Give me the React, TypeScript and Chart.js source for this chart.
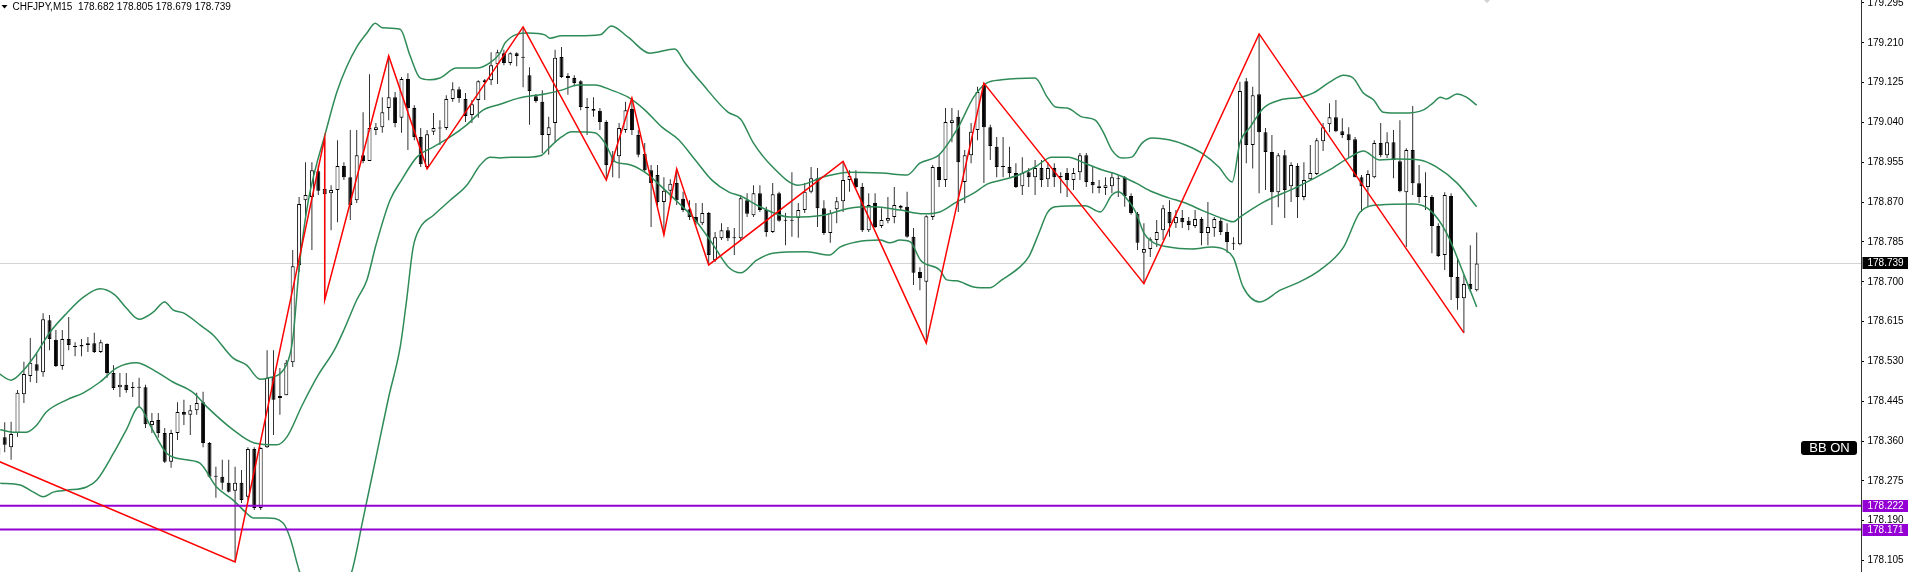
import React, { useEffect, useRef } from 'react';
import { Chart, registerables } from 'chart.js';

Chart.register(...registerables);

// ---------- data (CHFJPY, M15) ----------
const SYMBOL = 'CHFJPY,M15';

const OPEN = [
  178.345,178.368,178.347,178.377,178.460,178.499,178.524,178.507,178.618,178.576,
  178.520,178.578,178.563,178.562,178.565,178.569,178.550,178.567,178.505,178.475,
  178.480,178.474,178.476,178.475,178.394,178.405,178.377,178.316,178.377,178.422,
  178.416,178.426,178.443,178.356,178.286,178.284,178.271,178.254,178.271,178.241,
  178.343,178.217,178.347,178.497,178.452,178.458,178.528,178.735,178.874,178.881,
  178.936,178.898,178.889,178.896,178.947,178.923,178.874,178.970,178.958,179.024,
  179.030,179.071,179.094,179.050,179.133,179.071,179.009,178.945,179.020,179.027,
  179.028,179.090,179.111,179.090,179.056,179.088,179.126,179.130,179.164,179.188,
  179.167,179.188,179.180,179.141,179.096,179.084,179.013,179.039,179.180,179.139,
  179.135,179.128,179.073,179.069,179.065,179.041,178.955,178.968,179.024,179.069,
  179.013,178.973,178.938,178.928,178.870,178.894,178.911,178.877,178.855,178.838,
  178.825,178.847,178.746,178.793,178.810,178.795,178.793,178.874,178.842,178.889,
  178.853,178.806,178.889,178.832,178.830,178.836,178.853,178.892,178.921,178.857,
  178.804,178.855,178.872,178.917,178.921,178.902,178.810,178.868,178.819,178.830,
  178.838,178.862,178.860,178.796,178.721,178.700,178.838,178.945,178.917,179.039,
  179.052,178.913,178.970,179.024,179.120,179.030,178.988,178.947,178.945,178.932,
  178.904,178.934,178.923,178.943,178.919,178.943,178.926,178.932,178.917,178.934,
  178.970,178.913,178.904,178.900,178.904,178.921,178.923,178.883,178.845,178.762,
  178.770,178.789,178.810,178.849,178.825,178.836,178.830,178.819,178.834,178.804,
  178.815,178.830,178.806,178.783,178.780,179.128,178.992,179.100,179.019,178.977,
  178.891,178.970,178.904,178.947,178.881,178.919,178.930,179.000,179.036,179.051,
  179.021,179.015,179.004,178.923,178.902,178.923,178.996,178.970,178.998,178.957,
  178.891,178.981,178.910,178.883,178.881,178.819,178.757,178.883,178.710,178.665,
  178.695,178.682,
];
const HIGH = [
  178.360,178.400,178.401,178.469,178.529,178.580,178.548,178.633,178.629,178.597,
  178.597,178.625,178.571,178.578,178.582,178.591,178.576,178.569,178.522,178.505,
  178.505,178.486,178.495,178.480,178.420,178.420,178.388,178.384,178.443,178.448,
  178.437,178.463,178.465,178.358,178.305,178.320,178.320,178.305,178.298,178.347,
  178.347,178.347,178.554,178.554,178.516,178.533,178.768,178.881,178.955,178.955,
  178.949,179.007,178.906,179.002,178.955,179.024,179.024,179.062,179.143,179.039,
  179.094,179.182,179.105,179.137,179.145,179.077,179.028,179.024,179.060,179.045,
  179.098,179.126,179.116,179.103,179.088,179.130,179.133,179.190,179.195,179.195,
  179.190,179.190,179.244,179.158,179.101,179.109,179.052,179.195,179.201,179.145,
  179.141,179.130,179.092,179.094,179.071,179.045,178.979,179.039,179.084,179.092,
  179.024,178.996,178.949,178.949,178.923,178.919,178.941,178.892,178.874,178.868,
  178.868,178.849,178.806,178.825,178.817,178.815,178.885,178.889,178.906,178.906,
  178.860,178.911,178.892,178.847,178.934,178.868,178.911,178.945,178.943,178.874,
  178.853,178.881,178.957,178.938,178.938,178.911,178.889,178.889,178.857,178.881,
  178.902,178.864,178.892,178.815,178.731,178.842,178.949,178.970,179.071,179.071,
  179.066,178.981,179.039,179.116,179.124,179.035,179.009,179.009,178.988,178.953,
  178.966,178.943,178.960,178.960,178.955,178.953,178.934,178.943,178.943,178.975,
  178.975,178.945,178.917,178.923,178.934,178.928,178.926,178.889,178.849,178.825,
  178.795,178.832,178.864,178.874,178.853,178.853,178.838,178.853,178.838,178.870,
  178.838,178.836,178.825,178.795,179.127,179.135,179.116,179.229,179.028,179.013,
  178.975,178.981,178.955,178.953,178.955,178.992,179.007,179.039,179.081,179.088,
  179.049,179.030,179.009,178.928,178.938,179.002,179.039,179.019,179.024,179.045,
  178.985,179.075,178.949,178.934,178.885,178.825,178.891,178.889,178.750,178.714,
  178.778,178.805,
];
const LOW = [
  178.315,178.336,178.320,178.369,178.441,178.486,178.484,178.497,178.554,178.518,
  178.512,178.554,178.541,178.541,178.550,178.548,178.548,178.495,178.469,178.454,
  178.463,178.454,178.433,178.388,178.377,178.367,178.313,178.303,178.362,178.394,
  178.373,178.416,178.347,178.281,178.239,178.256,178.250,178.102,178.228,178.234,
  178.213,178.213,178.345,178.373,178.416,178.458,178.518,178.721,178.833,178.768,
  178.885,178.661,178.810,178.827,178.917,178.832,178.868,178.953,178.958,179.013,
  179.018,179.045,179.030,179.018,178.981,179.002,178.945,178.941,179.013,178.992,
  179.024,179.084,179.082,179.041,179.039,179.050,179.088,179.120,179.122,179.162,
  179.162,179.160,179.115,179.035,179.082,178.975,178.971,178.996,179.135,179.099,
  179.120,179.066,179.013,179.052,179.024,178.917,178.923,178.921,179.018,179.013,
  178.966,178.934,178.817,178.860,178.800,178.874,178.864,178.849,178.832,178.821,
  178.821,178.736,178.742,178.789,178.787,178.757,178.789,178.838,178.838,178.849,
  178.796,178.804,178.828,178.778,178.796,178.794,178.847,178.889,178.817,178.800,
  178.783,178.825,178.849,178.892,178.900,178.806,178.806,178.815,178.815,178.825,
  178.825,178.853,178.794,178.693,178.682,178.569,178.832,178.902,178.902,178.998,
  178.849,178.868,178.953,179.002,178.911,178.960,178.923,178.923,178.923,178.900,
  178.885,178.902,178.885,178.902,178.902,178.902,178.889,178.881,178.896,178.917,
  178.902,178.889,178.889,178.885,178.889,178.881,178.860,178.843,178.768,178.696,
  178.753,178.774,178.789,178.796,178.815,178.815,178.810,178.815,178.778,178.778,
  178.796,178.800,178.762,178.768,178.778,178.953,178.942,178.889,178.896,178.821,
  178.859,178.836,178.870,178.836,178.874,178.917,178.928,178.979,179.019,179.019,
  179.007,178.966,178.923,178.849,178.859,178.921,178.966,178.964,178.921,178.891,
  178.774,178.885,178.868,178.853,178.761,178.753,178.725,178.661,178.640,178.591,
  178.678,178.679,
];
const CLOSE = [
  178.330,178.352,178.375,178.463,178.503,178.527,178.510,178.620,178.578,178.520,
  178.578,178.565,178.561,178.565,178.569,178.550,178.571,178.505,178.473,178.480,
  178.469,178.473,178.474,178.396,178.403,178.377,178.316,178.377,178.422,178.416,
  178.426,178.441,178.356,178.284,178.284,178.271,178.252,178.271,178.234,178.343,
  178.217,178.345,178.495,178.448,178.456,178.527,178.733,178.866,178.885,178.938,
  178.894,178.887,178.896,178.947,178.923,178.864,178.970,178.958,179.028,179.030,
  179.062,179.094,179.039,179.133,179.071,179.009,178.951,179.015,179.028,179.028,
  179.090,179.111,179.092,179.054,179.079,179.128,179.130,179.162,179.190,179.167,
  179.188,179.182,179.178,179.107,179.086,179.013,179.030,179.178,179.137,179.135,
  179.124,179.073,179.071,179.065,179.041,178.949,178.968,179.028,179.066,179.024,
  178.971,178.938,178.911,178.870,178.894,178.909,178.874,178.853,178.838,178.827,
  178.847,178.757,178.795,178.810,178.793,178.793,178.878,178.845,178.889,178.853,
  178.806,178.887,178.830,178.830,178.832,178.853,178.892,178.921,178.857,178.804,
  178.847,178.872,178.917,178.926,178.902,178.810,178.864,178.817,178.832,178.836,
  178.864,178.858,178.796,178.719,178.708,178.840,178.945,178.917,179.041,179.045,
  178.955,178.970,179.020,179.105,179.030,178.990,178.945,178.945,178.932,178.902,
  178.932,178.923,178.943,178.917,178.943,178.923,178.923,178.917,178.932,178.970,
  178.913,178.906,178.900,178.906,178.923,178.919,178.883,178.847,178.783,178.770,
  178.791,178.806,178.857,178.825,178.838,178.827,178.821,178.834,178.804,178.817,
  178.834,178.806,178.785,178.781,179.107,178.992,179.098,179.019,178.977,178.891,
  178.970,178.896,178.949,178.881,178.917,178.932,179.002,179.030,179.051,179.021,
  179.013,179.002,178.923,178.904,178.930,178.996,178.970,178.998,178.960,178.893,
  178.981,178.910,178.881,178.881,178.819,178.755,178.885,178.710,178.665,178.695,
  178.684,178.739,
];

// Bollinger bands (vertices, x = bar index)
const UPPER_X = [0,2,4,6,8,10.7,13.3,15.9,18.2,20,22,24.2,26,27.3,29,31.5,33.6,36.7,38.8,40.9,42,45,46,47.1,48.4,49.7,50.9,52.9,54.4,56,57.6,58.9,60,62.8,64.3,65.9,67.4,69,71.6,74.8,76.8,78.4,79.2,82.8,85.4,86.2,88,90.6,94,95.8,98.4,101.8,105.7,107.3,109.9,114,116,118,121,125,129,133,138,142,144,147,150,152.4,154.4,156.8,162,163.9,165.2,167,169.3,171.4,172.7,174,175.6,177.1,178.7,180.3,182.9,185.5,188,190.7,192.8,194,195.6,197.7,200.3,203.6,205.5,208,210.2,211.7,213.3,214.9,216.4,219.5,222.7,224.2,225.3,226.3,227.9,229.4,231];
const UPPER = [178.505,178.490,178.512,178.548,178.591,178.633,178.667,178.685,178.672,178.644,178.620,178.635,178.657,178.640,178.633,178.608,178.586,178.537,178.522,178.492,178.494,178.522,178.576,178.742,178.870,178.949,179.007,179.105,179.158,179.201,179.231,179.252,179.242,179.239,179.184,179.135,179.131,179.135,179.156,179.156,179.167,179.188,179.210,179.231,179.227,179.220,179.225,179.225,179.227,179.246,179.222,179.188,179.197,179.167,179.124,179.062,179.047,178.996,178.945,178.906,178.924,178.934,178.932,178.928,178.953,178.971,179.030,179.094,179.124,179.131,179.135,179.094,179.073,179.071,179.052,179.045,179.018,178.981,178.964,178.966,178.996,179.007,179.003,178.992,178.975,178.945,178.913,178.996,179.030,179.071,179.088,179.094,179.103,179.126,179.141,179.135,179.103,179.088,179.062,179.060,179.067,179.082,179.094,179.090,179.101,179.094,179.077];
const MIDDLE_X = [0.3,2.3,4.4,6,7.5,10.7,13.3,15.9,18.5,21.6,24.2,27.3,30.5,32.6,36.7,40,43.5,45.1,47.5,50,52.5,54,56,57.6,59,61.2,63,65.4,68,70.6,73.2,75.8,78.4,81.3,85.4,88,90.6,93.2,95.8,98.4,101,103.7,106.3,108.9,111.5,114.1,116,119,123.7,128.9,133,136.7,140.9,144.5,147.1,149.7,152.4,154.6,156.8,159.4,162,164.6,167.2,169.8,172.4,175,177.7,180.3,182.9,185.5,188,190.7,193,194,197.7,202.9,208,211.2,213.3,215.8,218.5,222.1,224.7,227.9,231];
const MIDDLE = [178.384,178.379,178.379,178.394,178.422,178.448,178.463,178.486,178.516,178.527,178.512,178.486,178.463,178.433,178.384,178.356,178.352,178.369,178.437,178.501,178.554,178.597,178.661,178.704,178.778,178.874,178.917,178.966,178.988,179.009,179.035,179.067,179.079,179.092,179.101,179.109,179.120,179.120,179.109,179.094,179.067,179.030,179.003,178.960,178.917,178.892,178.883,178.860,178.838,178.842,178.857,178.860,178.853,178.845,178.849,178.870,178.889,178.909,178.917,178.928,178.945,178.966,178.966,178.953,178.939,178.928,178.911,178.892,178.879,178.868,178.853,178.838,178.828,178.838,178.870,178.902,178.939,178.966,178.979,178.960,178.962,178.960,178.945,178.911,178.860];
const LOWER_X = [0.3,3.4,5.5,7,8.6,10.7,13.8,15.4,18,20,22,23.7,26.3,29.4,31.5,34.1,36.7,38.8,39.8,42,44.5,45.6,47.1,49,51,53,55.2,57,59,61,62.8,63.8,64.8,65.9,68,70.6,73.2,75.3,76.8,78.4,80.2,82.8,84.9,86,88,89.6,93.2,94.8,96.4,98.4,101,103.7,106.3,108.9,111.5,114.1,116,118.5,121,126.3,129.9,131.5,134.1,137.8,139.3,140.9,142.5,144.1,147.1,148.2,149.7,152.4,154.9,156.8,159.4,161,162.6,163.9,165.2,169.8,172.2,174,175,176.1,177.7,179,180.3,182.9,186.5,189.6,191.7,193,194.5,197.1,200.3,202.9,206.5,210.2,212.8,215.8,221.1,223.7,226.3,228.9,231];
const LOWER = [178.270,178.266,178.251,178.241,178.251,178.255,178.262,178.277,178.334,178.384,178.433,178.394,178.334,178.320,178.313,178.262,178.234,178.206,178.196,178.196,178.185,178.153,178.080,178.025,178.021,178.025,178.080,178.194,178.324,178.454,178.561,178.661,178.772,178.815,178.842,178.874,178.906,178.949,178.966,178.964,178.966,178.966,178.970,178.985,179.009,179.020,179.018,178.996,178.956,178.951,178.934,178.902,178.868,178.832,178.783,178.731,178.719,178.746,178.761,178.764,178.757,178.774,178.785,178.789,178.783,178.789,178.785,178.746,178.725,178.704,178.702,178.689,178.687,178.704,178.729,178.753,178.804,178.847,178.860,178.862,178.849,178.885,178.892,178.881,178.849,178.804,178.785,178.774,178.770,178.774,178.768,178.751,178.689,178.657,178.682,178.697,178.725,178.774,178.849,178.864,178.866,178.853,178.804,178.719,178.646];

// ZigZag pivots (bar index, price)
const ZZ_X = [0, 37, 51, 51, 61, 67, 82, 95, 99, 104, 106, 111, 132, 145, 154, 179, 197, 229];
const ZZ_Y = [178.317, 178.102, 179.007, 178.661, 179.182, 178.941, 179.244, 178.917, 179.092, 178.800, 178.941, 178.736, 178.957, 178.569, 179.124, 178.696, 179.229, 178.591];

// Horizontal lines, bid, axis ticks
const LEVELS = [178.222, 178.171];
const BID = 178.739;
const Y_TICKS = [179.295, 179.210, 179.125, 179.040, 178.955, 178.870, 178.785, 178.700, 178.615, 178.530, 178.445, 178.360, 178.275, 178.190, 178.105];
const Y_MIN = 178.0805;
const Y_MAX = 179.3014;

// ---------- layout ----------
const W = 1912;
const H = 572;
const AXIS_WIDTH = 51;
const BAR_STEP = 6.4;
const FIRST_BAR_PX = -1.7;
const X_MIN = -FIRST_BAR_PX / BAR_STEP;
const X_MAX = X_MIN + (W - AXIS_WIDTH) / BAR_STEP;
const BB_COLOR = '#2e8b57';
const LEVEL_COLOR = '#9400d3';
const FONT = '"Liberation Sans", Arial, sans-serif';

const overlay = {
  id: 'mt4Overlay',
  afterDraw(chart: any) {
    const { ctx, chartArea: a } = chart;
    const ys = chart.scales.y;
    ctx.save();
    // header
    ctx.fillStyle = '#000';
    ctx.beginPath();
    ctx.moveTo(1.5, 5);
    ctx.lineTo(7.5, 5);
    ctx.lineTo(4.5, 8.5);
    ctx.closePath();
    ctx.fill();
    ctx.font = `10px ${FONT}`;
    ctx.textBaseline = 'middle';
    ctx.textAlign = 'left';
    const last = OPEN.length - 1;
    const ohlc = [OPEN[last], HIGH[last], LOW[last], CLOSE[last]].map((v) => v.toFixed(3)).join(' ');
    ctx.fillText(`${SYMBOL}  ${ohlc}`, 12.5, 7.5);

    // faint object marker at the top
    ctx.fillStyle = '#d0d0d0';
    ctx.beginPath();
    ctx.moveTo(1482, -2);
    ctx.lineTo(1487, 3);
    ctx.lineTo(1492, -2);
    ctx.closePath();
    ctx.fill();

    // price tags on the axis
    const tag = (v: number, bg: string) => {
      const py = Math.round(ys.getPixelForValue(v));
      ctx.fillStyle = bg;
      ctx.fillRect(a.right + 1.5, py - 6, 45.5, 12);
      ctx.fillStyle = '#fff';
      ctx.font = `10px ${FONT}`;
      ctx.textAlign = 'left';
      ctx.fillText(v.toFixed(3), a.right + 6.5, py + 0.5);
    };
    tag(BID, '#000');
    LEVELS.forEach((v) => tag(v, LEVEL_COLOR));

    // "BB ON" button
    ctx.fillStyle = '#000';
    ctx.beginPath();
    if ((ctx as any).roundRect) (ctx as any).roundRect(1801, 441, 56, 14, 3);
    else ctx.rect(1801, 441, 56, 14);
    ctx.fill();
    ctx.fillStyle = '#fff';
    ctx.font = `13px ${FONT}`;
    ctx.textAlign = 'center';
    ctx.fillText('BB ON', 1829.5, 448.5);
    ctx.restore();
  },
};

export default function App() {
  const ref = useRef<HTMLCanvasElement>(null);

  useEffect(() => {
    document.body.style.margin = '0';
    const canvas = ref.current;
    if (!canvas) return;
    const idx = OPEN.map((_, i) => i);
    const wicks = idx.map((i) => ({ x: i, y: [LOW[i], HIGH[i]] }));
    const bodies = idx.map((i) => ({ x: i, y: [OPEN[i], CLOSE[i]] }));
    const bodyFill = idx.map((i) => (CLOSE[i] > OPEN[i] ? '#ffffff' : '#000000'));
    const pts = (xs: number[], ys: number[]) => xs.map((x, k) => ({ x, y: ys[k] }));
    const hline = (v: number) => [{ x: X_MIN, y: v }, { x: X_MAX, y: v }];
    const lineBase = { pointRadius: 0, pointHoverRadius: 0, fill: false };

    const chart = new Chart(canvas, {
      type: 'bar',
      data: {
        datasets: [
          { ...lineBase, type: 'line', data: pts(ZZ_X, ZZ_Y), borderColor: '#ff0000', borderWidth: 1.5, tension: 0, order: 0 },
          ...LEVELS.map((v) => ({ ...lineBase, type: 'line', data: hline(v), borderColor: LEVEL_COLOR, borderWidth: 2, order: 1 })),
          { ...lineBase, type: 'line', data: pts(UPPER_X, UPPER), borderColor: BB_COLOR, borderWidth: 1.5, cubicInterpolationMode: 'monotone', order: 2 },
          { ...lineBase, type: 'line', data: pts(MIDDLE_X, MIDDLE), borderColor: BB_COLOR, borderWidth: 1.5, cubicInterpolationMode: 'monotone', order: 2 },
          { ...lineBase, type: 'line', data: pts(LOWER_X, LOWER), borderColor: BB_COLOR, borderWidth: 1.5, cubicInterpolationMode: 'monotone', order: 2 },
          {
            type: 'bar', data: bodies, backgroundColor: bodyFill, borderColor: '#000', borderWidth: 1,
            borderSkipped: false, barThickness: 4, grouped: false, minBarLength: 1, inflateAmount: 0, order: 3,
          },
          {
            type: 'bar', data: wicks, backgroundColor: '#333', borderWidth: 0,
            barThickness: 1, grouped: false, inflateAmount: 0, order: 4,
          },
          { ...lineBase, type: 'line', data: hline(BID), borderColor: '#d4d4d4', borderWidth: 1, order: 5 },
        ] as any,
      },
      options: {
        responsive: false,
        animation: false,
        events: [],
        layout: { padding: 0, autoPadding: false },
        plugins: { legend: { display: false }, tooltip: { enabled: false } },
        scales: {
          x: {
            type: 'linear', display: false, min: X_MIN, max: X_MAX, offset: false, bounds: 'data',
            grid: { display: false, offset: false },
          },
          y: {
            type: 'linear', position: 'right', min: Y_MIN, max: Y_MAX, bounds: 'data',
            afterBuildTicks: (s: any) => { s.ticks = Y_TICKS.map((value) => ({ value })); },
            afterFit: (s: any) => { s.width = AXIS_WIDTH; s.paddingTop = 0; s.paddingBottom = 0; },
            ticks: {
              autoSkip: false, padding: 3.5, color: '#000',
              font: { family: '"Liberation Sans", Arial, sans-serif', size: 10 },
              callback: (v: any) => Number(v).toFixed(3),
            },
            grid: { drawOnChartArea: false, drawTicks: true, tickLength: 3, color: '#000' },
            border: { display: true, color: '#333', width: 1 },
          },
        },
      } as any,
      plugins: [overlay],
    });
    return () => chart.destroy();
  }, []);

  return (
    <div style={{ position: 'fixed', left: 0, top: 0, width: W, height: H, background: '#fff' }}>
      <canvas ref={ref} width={W} height={H} style={{ display: 'block', width: W, height: H }} />
    </div>
  );
}
